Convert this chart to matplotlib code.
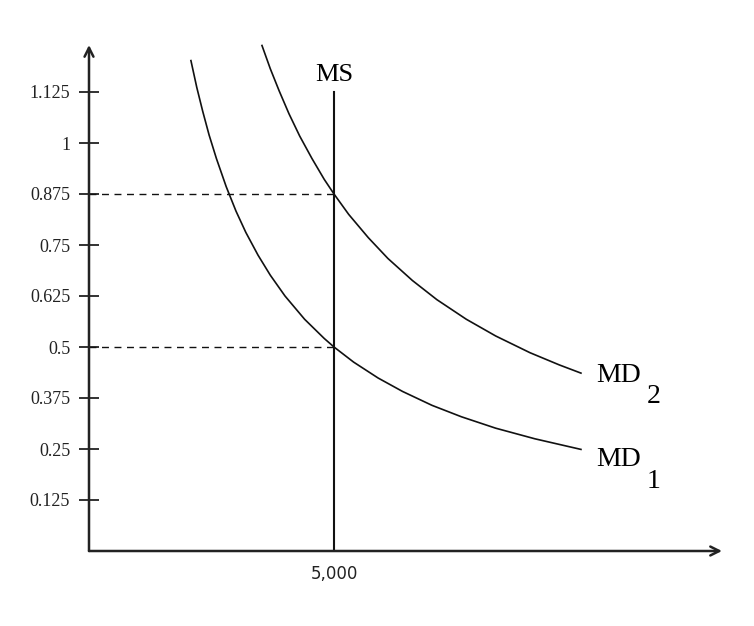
import matplotlib
matplotlib.use('Agg')
import matplotlib.pyplot as plt

# money demand / money supply diagram
md1_q = [2080, 2200, 2320, 2450, 2600, 2800, 3000, 3200, 3450, 3700, 4000, 4400, 4800, 5000,
         5400, 5900, 6400, 7000, 7600, 8300, 9100, 10040]
md1_p = [1.202, 1.136, 1.078, 1.020, 0.962, 0.893, 0.833, 0.781, 0.725, 0.676, 0.625, 0.568,
         0.521, 0.500, 0.463, 0.424, 0.391, 0.357, 0.329, 0.301, 0.275, 0.249]
md2_q = [3530, 3700, 3880, 4080, 4300, 4550, 4800, 5000, 5300, 5700, 6100, 6600, 7100, 7700,
         8300, 9000, 9600, 10040]
md2_p = [1.239, 1.182, 1.128, 1.072, 1.017, 0.962, 0.911, 0.875, 0.825, 0.768, 0.717, 0.663,
         0.616, 0.568, 0.527, 0.486, 0.456, 0.436]
ms_q = 5000
ms_top = 1.125
eq_prices = [0.875, 0.5]
y_ticks = [0.125, 0.25, 0.375, 0.5, 0.625, 0.75, 0.875, 1, 1.125]
y_labels = ['0.125', '0.25', '0.375', '0.5', '0.625', '0.75', '0.875', '1', '1.125']

serif = 'Liberation Serif'

fig = plt.figure(figsize=(7.54, 6.26), dpi=100)
ax = fig.add_axes([89/754, 75/626, 633/754, 506/626])
ax.set_xlim(0, 633/0.049)
ax.set_ylim(0, 506/408)
for s in ax.spines.values():
    s.set_visible(False)

# axes with open arrow heads
ax.annotate('', xy=(1, 0), xytext=(0, 0), xycoords='axes fraction',
            arrowprops=dict(arrowstyle='->', lw=1.8, color='#222222', mutation_scale=16,
                            shrinkA=0, shrinkB=0))
ax.annotate('', xy=(0, 1), xytext=(0, 0), xycoords='axes fraction',
            arrowprops=dict(arrowstyle='->', lw=1.8, color='#222222', mutation_scale=16,
                            shrinkA=0, shrinkB=0))

ax.set_yticks(y_ticks)
ax.set_yticklabels(y_labels, fontfamily=serif, fontsize=13)
ax.tick_params(axis='y', direction='inout', length=15, width=1.3, pad=6, colors='#222222')
ax.set_xticks([ms_q])
ax.set_xticklabels(['5,000'], fontfamily='DejaVu Sans', fontsize=12)
ax.tick_params(axis='x', length=0, pad=10, colors='#222222')

ax.plot(md1_q, md1_p, color='#111111', lw=1.2, clip_on=False, solid_joinstyle='round')
ax.plot(md2_q, md2_p, color='#111111', lw=1.2, clip_on=False, solid_joinstyle='round')
ax.plot([ms_q, ms_q], [0, ms_top], color='#111111', lw=1.5)

for p in eq_prices:
    ax.plot([0, ms_q], [p, p], color='#111111', lw=1, linestyle=(0, (5, 4)))

ax.text(ms_q, ms_top + 0.015, 'MS', fontfamily=serif, fontsize=19,
        ha='center', va='bottom')
ax.text(md2_q[-1] + 320, md2_p[-1] - 0.005, 'MD', fontfamily=serif, fontsize=20,
        ha='left', va='center')
ax.text(md2_q[-1] + 1340, md2_p[-1] - 0.058, '2', fontfamily=serif, fontsize=20,
        ha='left', va='center')
ax.text(md1_q[-1] + 320, md1_p[-1] - 0.025, 'MD', fontfamily=serif, fontsize=20,
        ha='left', va='center')
ax.text(md1_q[-1] + 1340, md1_p[-1] - 0.078, '1', fontfamily=serif, fontsize=20,
        ha='left', va='center')

fig.savefig('out.png', dpi=100)
